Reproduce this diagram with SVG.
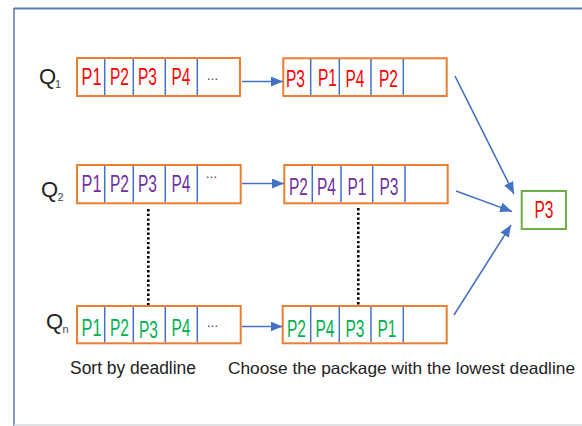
<svg xmlns="http://www.w3.org/2000/svg" width="582" height="426" viewBox="0 0 582 426">
<style>
.q{fill:#fff;stroke:#ED7D31;stroke-width:2}
.d{stroke:#4472C4;stroke-width:1.5}
.p{font-family:"Liberation Sans",Arial,sans-serif;font-size:23px;text-anchor:middle}
.r{fill:#FF0000}.v{fill:#7030A0}.g{fill:#00B050}
.e{font-family:"Liberation Sans",Arial,sans-serif;font-size:12px;fill:#333;text-anchor:middle}
.lab{font-family:"Liberation Sans",Arial,sans-serif;font-size:22px;fill:#222}
.sub{font-family:"Liberation Sans",Arial,sans-serif;font-size:11px;fill:#444}
.cap{font-family:"Liberation Sans",Arial,sans-serif;font-size:18px;fill:#222}
.cap2{font-family:"Liberation Sans",Arial,sans-serif;font-size:16.5px;fill:#222}
.c{stroke:#4472C4;stroke-width:1.6;fill:none;marker-end:url(#ah)}
.dot{stroke:#000;stroke-width:2.6;stroke-dasharray:2.4 2.3;fill:none}
</style>
<defs>
<marker id="ah" markerUnits="userSpaceOnUse" markerWidth="13" markerHeight="11" refX="12" refY="5" orient="auto">
<path d="M0,0 L12,5 L0,10 z" fill="#4472C4"/>
</marker>
</defs>
<rect width="582" height="426" fill="#fff"/>
<g id="frame">
<line x1="14" y1="8.5" x2="582" y2="8.5" stroke="#5b79b3" stroke-width="2"/>
<line x1="14" y1="8" x2="14" y2="426" stroke="#5b79b3" stroke-width="1.5"/>
<line x1="14" y1="425" x2="582" y2="425" stroke="#d3d7de" stroke-width="1.5"/>
</g>
<g id="Q1">
<text class="lab" x="39" y="84">Q</text><text class="sub" x="55" y="88">1</text>
</g>
<g id="Q2">
<text class="lab" x="41" y="197">Q</text><text class="sub" x="57.5" y="201">2</text>
</g>
<g id="Qn">
<text class="lab" x="46" y="329">Q</text><text class="sub" x="62.5" y="333">n</text>
</g>
<g id="row1-input">
<rect class="q" x="77" y="58" width="163" height="38"/>
<line class="d" x1="104.7" y1="59" x2="104.7" y2="95"/><line class="d" x1="133.3" y1="59" x2="133.3" y2="95"/><line class="d" x1="165.3" y1="59" x2="165.3" y2="95"/><line class="d" x1="197.3" y1="59" x2="197.3" y2="95"/>
<text class="p r" x="91.5" y="85" textLength="20" lengthAdjust="spacingAndGlyphs">P1</text>
<text class="p r" x="119.5" y="85" textLength="19" lengthAdjust="spacingAndGlyphs">P2</text>
<text class="p r" x="147.5" y="85" textLength="19" lengthAdjust="spacingAndGlyphs">P3</text>
<text class="p r" x="181" y="85" textLength="19" lengthAdjust="spacingAndGlyphs">P4</text>
<text class="e" x="212.5" y="80">…</text>
</g>
<g id="row1-sorted">
<rect class="q" x="283.3" y="58.3" width="163.4" height="37.7"/>
<line class="d" x1="310.7" y1="59" x2="310.7" y2="95"/><line class="d" x1="339.3" y1="59" x2="339.3" y2="95"/><line class="d" x1="371" y1="59" x2="371" y2="95"/><line class="d" x1="403.3" y1="59" x2="403.3" y2="95"/>
<text class="p r" x="295.5" y="86.5" textLength="19" lengthAdjust="spacingAndGlyphs">P3</text>
<text class="p r" x="327.5" y="85.5" textLength="19" lengthAdjust="spacingAndGlyphs">P1</text>
<text class="p r" x="355" y="86.5" textLength="19" lengthAdjust="spacingAndGlyphs">P4</text>
<text class="p r" x="388.5" y="86.5" textLength="19" lengthAdjust="spacingAndGlyphs">P2</text>
</g>
<g id="row2-input">
<rect class="q" x="77" y="165" width="163.7" height="38.3"/>
<line class="d" x1="104.7" y1="166" x2="104.7" y2="202.3"/><line class="d" x1="133.3" y1="166" x2="133.3" y2="202.3"/><line class="d" x1="165.3" y1="166" x2="165.3" y2="202.3"/><line class="d" x1="197.3" y1="166" x2="197.3" y2="202.3"/>
<text class="p v" x="91.5" y="191.5" textLength="20" lengthAdjust="spacingAndGlyphs">P1</text>
<text class="p v" x="119.5" y="191.5" textLength="19" lengthAdjust="spacingAndGlyphs">P2</text>
<text class="p v" x="147.5" y="191.5" textLength="19" lengthAdjust="spacingAndGlyphs">P3</text>
<text class="p v" x="181" y="191.5" textLength="19" lengthAdjust="spacingAndGlyphs">P4</text>
<text class="e" x="211.5" y="178">…</text>
</g>
<g id="row2-sorted">
<rect class="q" x="284.3" y="165" width="163.4" height="38.3"/>
<line class="d" x1="312.3" y1="166" x2="312.3" y2="202.3"/><line class="d" x1="341" y1="166" x2="341" y2="202.3"/><line class="d" x1="372.7" y1="166" x2="372.7" y2="202.3"/><line class="d" x1="405" y1="166" x2="405" y2="202.3"/>
<text class="p v" x="298.5" y="194.5" textLength="19" lengthAdjust="spacingAndGlyphs">P2</text>
<text class="p v" x="326.5" y="194.5" textLength="19" lengthAdjust="spacingAndGlyphs">P4</text>
<text class="p v" x="357" y="194.5" textLength="19" lengthAdjust="spacingAndGlyphs">P1</text>
<text class="p v" x="389" y="194.5" textLength="19" lengthAdjust="spacingAndGlyphs">P3</text>
</g>
<g id="rown-input">
<rect class="q" x="77" y="306" width="163.7" height="37.3"/>
<line class="d" x1="104.7" y1="307" x2="104.7" y2="342.3"/><line class="d" x1="133.3" y1="307" x2="133.3" y2="342.3"/><line class="d" x1="165.3" y1="307" x2="165.3" y2="342.3"/><line class="d" x1="197.3" y1="307" x2="197.3" y2="342.3"/>
<text class="p g" x="91.5" y="335.5" textLength="20" lengthAdjust="spacingAndGlyphs">P1</text>
<text class="p g" x="119.5" y="335.5" textLength="19" lengthAdjust="spacingAndGlyphs">P2</text>
<text class="p g" x="148.5" y="337.5" textLength="19" lengthAdjust="spacingAndGlyphs">P3</text>
<text class="p g" x="181" y="335.5" textLength="19" lengthAdjust="spacingAndGlyphs">P4</text>
<text class="e" x="212.5" y="327">…</text>
</g>
<g id="rown-sorted">
<rect class="q" x="282.7" y="306" width="164" height="37.3"/>
<line class="d" x1="310.7" y1="307" x2="310.7" y2="342.3"/><line class="d" x1="339.3" y1="307" x2="339.3" y2="342.3"/><line class="d" x1="371" y1="307" x2="371" y2="342.3"/><line class="d" x1="403.3" y1="307" x2="403.3" y2="342.3"/>
<text class="p g" x="296.5" y="336.5" textLength="19" lengthAdjust="spacingAndGlyphs">P2</text>
<text class="p g" x="325" y="336.5" textLength="19" lengthAdjust="spacingAndGlyphs">P4</text>
<text class="p g" x="355" y="336.5" textLength="19" lengthAdjust="spacingAndGlyphs">P3</text>
<text class="p g" x="387" y="336.5" textLength="19" lengthAdjust="spacingAndGlyphs">P1</text>
</g>
<g id="result">
<rect x="521.7" y="191" width="44.3" height="38" fill="#fff" stroke="#70AD47" stroke-width="2"/>
<text class="p r" x="544" y="218" textLength="19" lengthAdjust="spacingAndGlyphs">P3</text>
</g>
<g id="connectors">
<line class="c" x1="242" y1="81.5" x2="283" y2="81.5"/>
<line class="c" x1="242" y1="183.5" x2="284" y2="183.5"/>
<line class="c" x1="242" y1="326.5" x2="282.5" y2="326.5"/>
<line class="c" x1="455" y1="76" x2="514" y2="194"/>
<line class="c" x1="456" y1="191" x2="512" y2="211.5"/>
<line class="c" x1="454" y1="315" x2="511" y2="225"/>
<line class="dot" x1="148.3" y1="209" x2="148.3" y2="305"/>
<line class="dot" x1="358.3" y1="208" x2="358.3" y2="305"/>
</g>
<g id="captions">
<text class="cap" x="70" y="374" textLength="126" lengthAdjust="spacingAndGlyphs">Sort by deadline</text>
<text class="cap2" x="228" y="374" textLength="347" lengthAdjust="spacingAndGlyphs">Choose the package with the lowest deadline</text>
</g>
</svg>
